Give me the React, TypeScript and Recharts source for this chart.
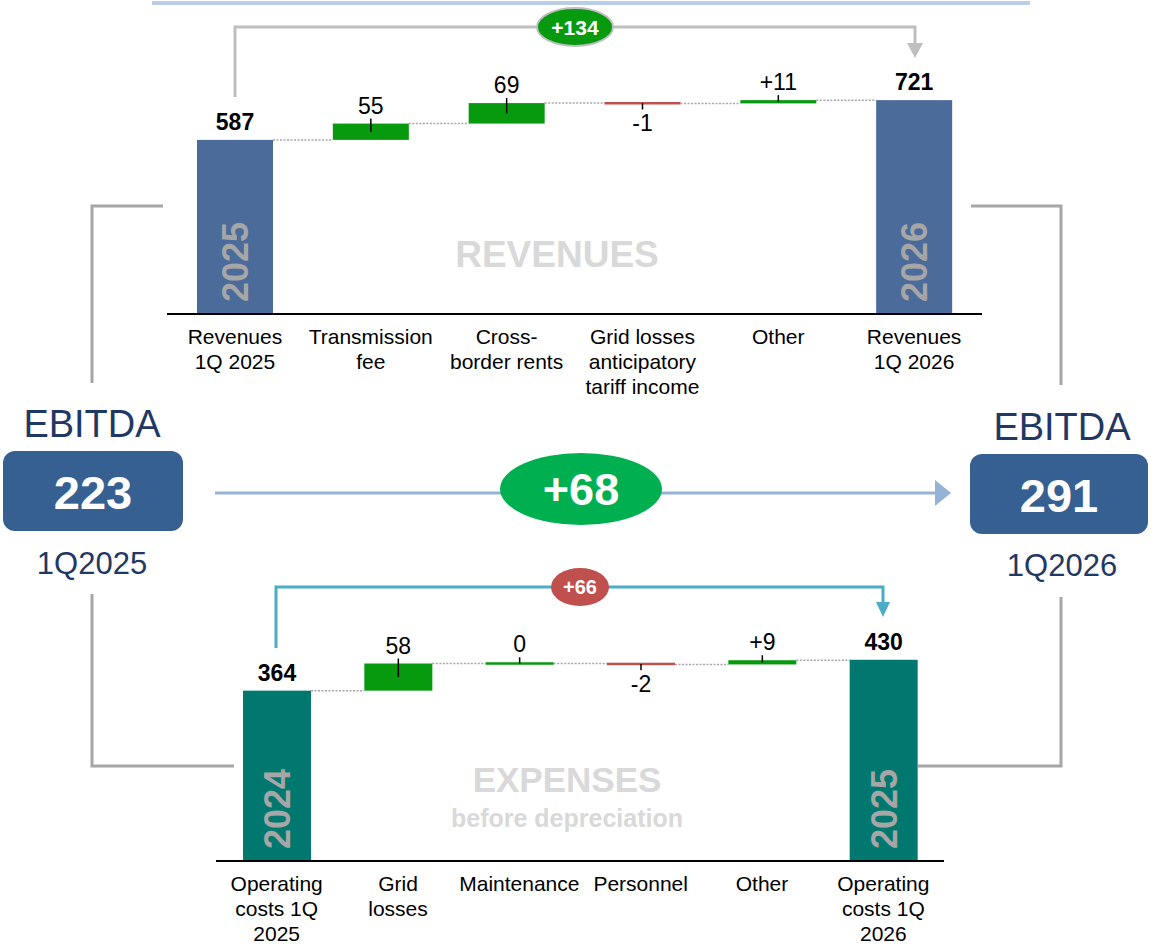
import React from 'react';
import { ComposedChart, Bar, XAxis, YAxis } from 'recharts';

const FONT = '"Liberation Sans", Arial, Helvetica, sans-serif';

// Revenues bridge (top)
const revCategories = [
  'Revenues\n1Q 2025',
  'Transmission\nfee',
  'Cross-\nborder rents',
  'Grid losses\nanticipatory\ntariff income',
  'Other',
  'Revenues\n1Q 2026',
];
const revValues = [587, 55, 69, -1, 11, 721];
const revLabels = ['587', '55', '69', '-1', '+11', '721'];
const revYears = ['2025', '', '', '', '', '2026'];
const revChange = '+134';

// Expenses bridge (bottom)
const expCategories = [
  'Operating\ncosts 1Q\n2025',
  'Grid\nlosses',
  'Maintenance',
  'Personnel',
  'Other',
  'Operating\ncosts 1Q\n2026',
];
const expValues = [364, 58, 0, -2, 9, 430];
const expLabels = ['364', '58', '0', '-2', '+9', '430'];
const expYears = ['2024', '', '', '', '', '2025'];
const expChange = '+66';

// EBITDA
const ebitdaPeriods = ['1Q2025', '1Q2026'];
const ebitdaValues = [223, 291];
const ebitdaChange = '+68';

const GREEN = '#079A0F';
const RED = '#C0504D';

type Row = {
  name: string;
  range: [number, number];
  value: number;
  label: string;
  year: string;
  isTotal: boolean;
  isLast: boolean;
};

function buildBridge(cats: string[], values: number[], labels: string[], years: string[]): Row[] {
  let run = 0;
  return cats.map((name, i) => {
    const isLast = i === cats.length - 1;
    const isTotal = i === 0 || isLast;
    let lo: number;
    let hi: number;
    if (isTotal) {
      lo = 0;
      hi = values[i];
      run = values[i];
    } else {
      const next = run + values[i];
      lo = Math.min(run, next);
      hi = Math.max(run, next);
      run = next;
    }
    return { name, range: [lo, hi], value: values[i], label: labels[i], year: years[i], isTotal, isLast };
  });
}

const revData = buildBridge(revCategories, revValues, revLabels, revYears);
const expData = buildBridge(expCategories, expValues, expLabels, expYears);

const makeShape = (totalFill: string, step: number) => (props: any) => {
  const { x, y, width, height, payload } = props;
  const p: Row = payload;
  const top0 = Math.min(y, y + height);
  const h0 = Math.abs(height);
  const bottom0 = top0 + h0;
  const cx = x + width / 2;
  const neg = p.value < 0;
  let top = top0;
  let h = h0;
  if (h < 2.5) {
    top = top0 + h0 / 2 - 1.25;
    h = 2.5;
  }
  const fill = p.isTotal ? totalFill : neg ? RED : GREEN;
  const level = neg ? bottom0 : top0;
  return (
    <g>
      {!p.isLast && (
        <line x1={x + width} x2={x + step} y1={level} y2={level} stroke="#A6A6A6" strokeWidth={1.5} strokeDasharray="2 1.5" />
      )}
      <rect x={x} y={top} width={width} height={h} fill={fill} />
      {!p.isTotal && !neg && (
        <line x1={cx} x2={cx} y1={top - 5} y2={top + h / 2} stroke="#000" strokeWidth={1.5} />
      )}
      {!p.isTotal && neg && (
        <line x1={cx} x2={cx} y1={top + h / 2} y2={top + h + 5} stroke="#000" strokeWidth={1.5} />
      )}
      <text
        x={cx}
        y={neg ? top + h + 27 : top - 10}
        textAnchor="middle"
        fontSize={23}
        fontWeight={p.isTotal ? 'bold' : 'normal'}
        fill="#000"
        fontFamily={FONT}
      >
        {p.label}
      </text>
      {p.year && (
        <text
          x={cx}
          y={bottom0 - 52}
          dy={13}
          textAnchor="middle"
          fontSize={36}
          fontWeight="bold"
          fill="#A6A6A6"
          fontFamily={FONT}
          transform={`rotate(-90, ${cx}, ${bottom0 - 52})`}
        >
          {p.year}
        </text>
      )}
    </g>
  );
};

const makeTick = (axisY: number) => (props: any) => {
  const { x, payload } = props;
  const lines = String(payload.value).split('\n');
  return (
    <g>
      {lines.map((t, i) => (
        <text key={i} x={x} y={axisY + 29.5 + i * 25} textAnchor="middle" fontSize={21} fill="#000" fontFamily={FONT}>
          {t}
        </text>
      ))}
    </g>
  );
};

const Txt = ({ x, y, size, children, fill = '#fff', bold = false }: any) => (
  <text x={x} y={y + size * 0.358} textAnchor="middle" fontSize={size} fontWeight={bold ? 'bold' : 'normal'} fill={fill} fontFamily={FONT}>
    {children}
  </text>
);

const Overlay = () => (
  <svg width={1155} height={951} style={{ position: 'absolute', left: 0, top: 0, pointerEvents: 'none' }}>
    {/* top rule */}
    <line x1={152} x2={1030} y1={3} y2={3} stroke="#B9CDE5" strokeWidth={4} />

    {/* revenues bracket */}
    <polyline points="235,97 235,27 915,27 915,44" fill="none" stroke="#BFBFBF" strokeWidth={3} />
    <polygon points="907,43 923,43 915,58" fill="#BFBFBF" />
    <ellipse cx={575} cy={27} rx={38} ry={19} fill={GREEN} stroke="#BFBFBF" strokeWidth={2} />
    <Txt x={575} y={27} size={21} bold>{revChange}</Txt>

    {/* side brackets */}
    <polyline points="163,206 92,206 92,383" fill="none" stroke="#A6A6A6" strokeWidth={3} />
    <polyline points="92,594 92,766 234,766" fill="none" stroke="#A6A6A6" strokeWidth={3} />
    <polyline points="971,206 1061,206 1061,385" fill="none" stroke="#A6A6A6" strokeWidth={3} />
    <polyline points="1061,597 1061,766 918,766" fill="none" stroke="#A6A6A6" strokeWidth={3} />

    {/* EBITDA arrow */}
    <line x1={215} x2={936} y1={493} y2={493} stroke="#95B3D7" strokeWidth={3} />
    <polygon points="935,480 951,493 935,506" fill="#95B3D7" />
    <ellipse cx={581} cy={489} rx={81} ry={36} fill="#00B050" />
    <Txt x={581} y={489} size={45} bold>{ebitdaChange}</Txt>

    {/* expenses bracket */}
    <polyline points="276,648 276,587 883,587 883,603" fill="none" stroke="#4BACC6" strokeWidth={3} />
    <polygon points="876,602 890,602 883,617" fill="#4BACC6" />
    <ellipse cx={580} cy={587} rx={29} ry={19} fill={RED} />
    <Txt x={580} y={587} size={20} bold>{expChange}</Txt>

    {/* EBITDA boxes */}
    <Txt x={92} y={423} size={38} fill="#1F3864">EBITDA</Txt>
    <rect x={3} y={451} width={180} height={80} rx={12} fill="#376092" />
    <Txt x={93} y={492} size={47} bold>{ebitdaValues[0]}</Txt>
    <Txt x={92} y={563} size={31} fill="#1F3864">{ebitdaPeriods[0]}</Txt>

    <Txt x={1062} y={426} size={38} fill="#1F3864">EBITDA</Txt>
    <rect x={970} y={454} width={178} height={80} rx={12} fill="#376092" />
    <Txt x={1059} y={495} size={47} bold>{ebitdaValues[1]}</Txt>
    <Txt x={1062} y={565} size={31} fill="#1F3864">{ebitdaPeriods[1]}</Txt>

    {/* watermarks */}
    <Txt x={557} y={254} size={37} bold fill="#D9D9D9">REVENUES</Txt>
    <Txt x={567} y={779} size={35} bold fill="#D9D9D9">EXPENSES</Txt>
    <Txt x={567} y={818} size={25} bold fill="#D9D9D9">before depreciation</Txt>
  </svg>
);

export default function App() {
  return (
    <div style={{ position: 'absolute', left: 0, top: 0, width: 1155, height: 951, background: '#fff', fontFamily: FONT }}>
      <div style={{ position: 'absolute', left: 0, top: 0 }}>
        <ComposedChart width={1155} height={400} data={revData} margin={{ top: 76.7, left: 167, right: 173, bottom: 0 }}>
          <XAxis
            dataKey="name"
            interval={0}
            height={86}
            tickLine={false}
            axisLine={{ stroke: '#000', strokeWidth: 2 }}
            tick={makeTick(314)}
          />
          <YAxis hide domain={[0, 800]} />
          <Bar dataKey="range" barSize={76} isAnimationActive={false} shape={makeShape('#4B6B9B', 815 / 6)} />
        </ComposedChart>
      </div>
      <div style={{ position: 'absolute', left: 0, top: 560 }}>
        <ComposedChart width={1155} height={391} data={expData} margin={{ top: 67, left: 216, right: 211, bottom: 0 }}>
          <XAxis
            dataKey="name"
            interval={0}
            height={90}
            tickLine={false}
            axisLine={{ stroke: '#000', strokeWidth: 2 }}
            tick={makeTick(301)}
          />
          <YAxis hide domain={[0, 500]} />
          <Bar dataKey="range" barSize={68} isAnimationActive={false} shape={makeShape('#00786F', 728 / 6)} />
        </ComposedChart>
      </div>
      <Overlay />
    </div>
  );
}
